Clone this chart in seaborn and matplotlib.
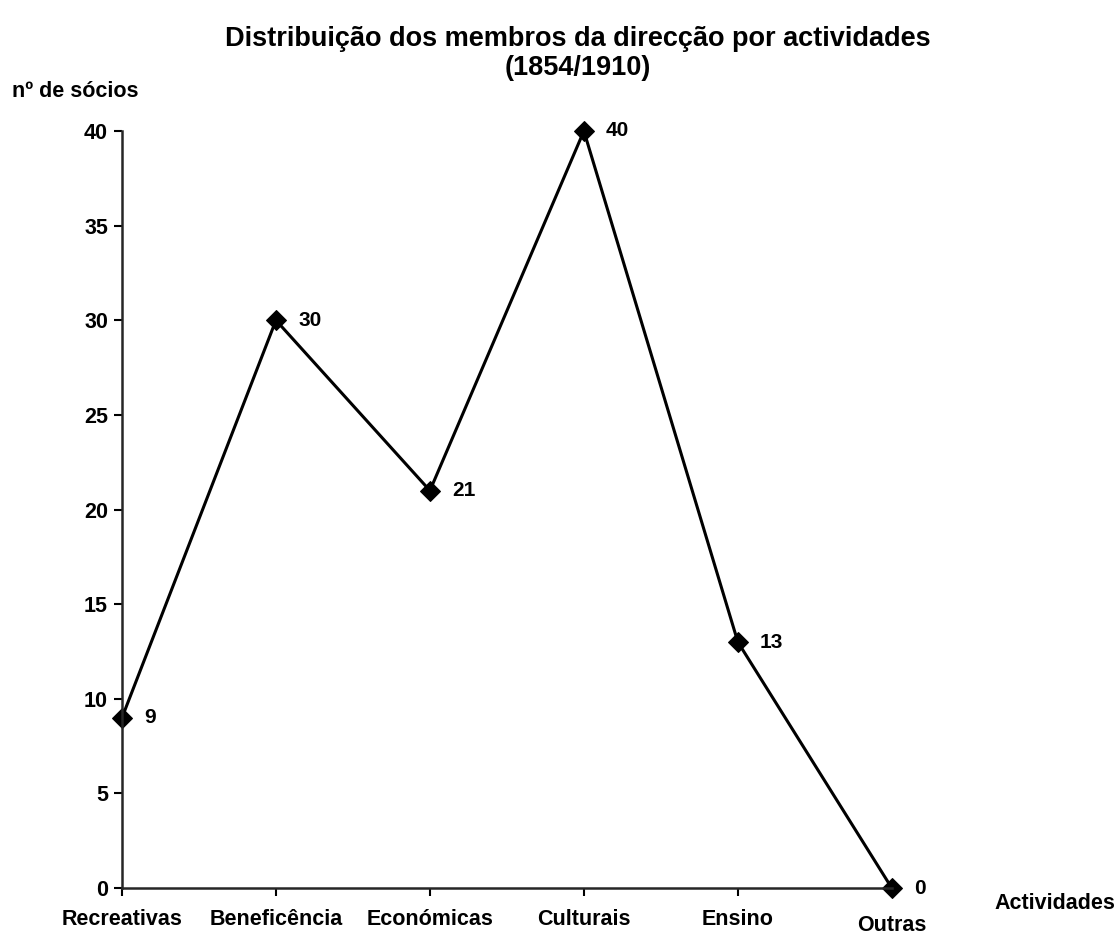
import pandas as pd
import matplotlib.pyplot as plt
import matplotlib.transforms as mtransforms
import seaborn as sns

actividades = ["Recreativas", "Beneficência", "Económicas", "Culturais", "Ensino", "Outras"]
socios = [9, 30, 21, 40, 13, 0]

df = pd.DataFrame({"pos": range(len(actividades)), "socios": socios})

sns.set_style("ticks")
plt.rcParams["font.family"] = ["Liberation Sans", "DejaVu Sans"]
plt.rcParams["font.weight"] = "bold"
plt.rcParams["text.color"] = "black"

fig = plt.figure(figsize=(11.19, 9.41), dpi=100)
ax = fig.add_axes([0.109, 0.0562, 0.688, 0.8046])

sns.lineplot(data=df, x="pos", y="socios", ax=ax, color="black", linewidth=2.2,
             marker="D", markersize=10, markeredgecolor="black", markerfacecolor="black",
             clip_on=False)

for x, y in zip(df["pos"], df["socios"]):
    ax.annotate(str(y), (x, y), xytext=(16, 0), textcoords="offset points",
                fontsize=15, fontweight="bold", va="center", color="black")

ax.set_xlim(0, 5)
ax.set_ylim(0, 40)
ax.set_yticks(range(0, 41, 5))
ax.set_xticks(range(len(actividades)))
ax.set_xticklabels(actividades)
ax.tick_params(axis="both", labelsize=15.5, width=1.5, length=6, colors="black")
ax.tick_params(axis="x", pad=9)
ax.tick_params(axis="y", pad=4)
for lab in ax.get_xticklabels() + ax.get_yticklabels():
    lab.set_fontweight("bold")
# the last label sits a little lower in the original
last = ax.get_xticklabels()[-1]
last.set_transform(last.get_transform() + mtransforms.ScaledTranslation(0, -6 / 100, fig.dpi_scale_trans))
ax.set_xlabel("")
ax.set_ylabel("")
sns.despine(ax=ax)
ax.spines["left"].set_linewidth(1.8)
ax.spines["bottom"].set_linewidth(1.8)

fig.text(0.516, 0.943, "Distribuição dos membros da direcção por actividades\n(1854/1910)",
         ha="center", va="center", fontsize=19.5, fontweight="bold", linespacing=1.15)
fig.text(0.011, 0.903, "nº de sócios", fontsize=15.5, fontweight="bold", va="center")
fig.text(0.9965, 0.040, "Actividades", fontsize=15.5, fontweight="bold", va="center", ha="right")

fig.savefig("out.png", dpi=100)
